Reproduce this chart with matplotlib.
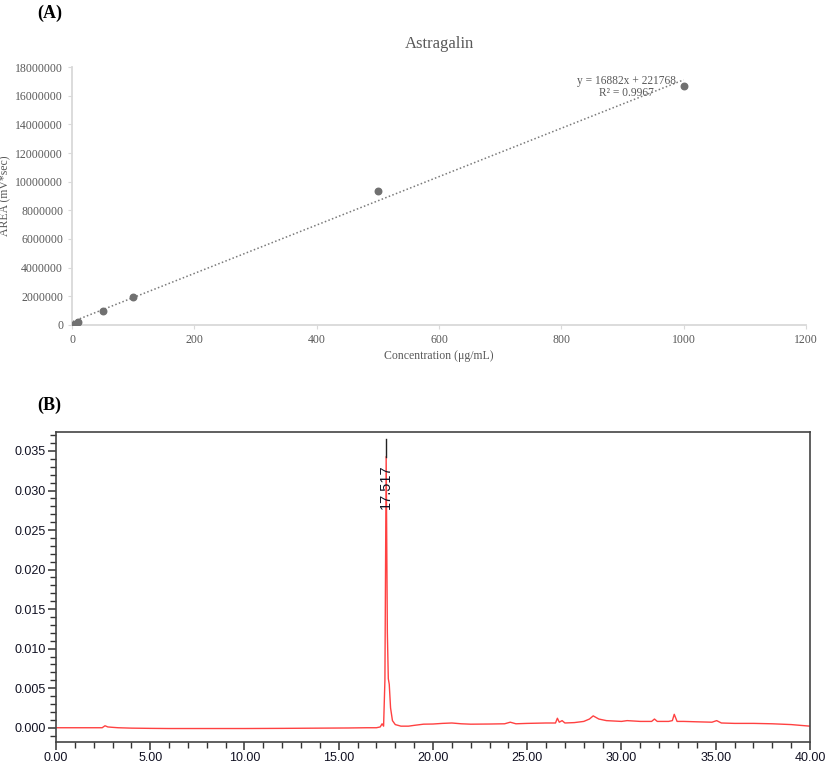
import numpy as np
import matplotlib
matplotlib.use("Agg")
from matplotlib import pyplot as plt
from matplotlib.ticker import MultipleLocator, FormatStrFormatter

# (A) calibration data
conc = [1, 5, 10, 50, 100, 500, 1000]
area = [20000, 90000, 180000, 950000, 1950000, 9350000, 16700000]
slope = 16882
intercept = 221768
fit_text = "y = 16882x + 221768\nR\u00b2 = 0.9967"

# (B) chromatogram, points
rt = [0.0, 1.0, 2.0, 2.45, 2.6, 2.75, 3.0, 3.3, 4.0, 5.0, 6.0, 8.0, 10.0, 12.0,
      14.0, 15.5, 16.5, 17.0, 17.2, 17.3, 17.38, 17.45, 17.517, 17.58, 17.63,
      17.68, 17.75, 17.85, 18.0, 18.3, 18.7, 19.0, 19.5, 20.0, 20.5, 21.0,
      21.5, 22.0, 23.0, 23.8, 24.1, 24.4, 25.0, 26.0, 26.5, 26.6, 26.7, 26.85,
      27.0, 27.5, 28.0, 28.3, 28.5, 28.8, 29.2, 30.0, 30.3, 31.0, 31.6, 31.75,
      31.9, 32.5, 32.7, 32.8, 32.95, 33.3, 34.0, 34.8, 35.05, 35.3, 36.0, 37.0,
      38.0, 39.0, 40.0]
signal = [0.0, 0.0, 0.0, 0.0, 0.00025, 0.0001, 0.00005, 0.0, -0.00005,
          -0.00008, -0.0001, -0.0001, -0.0001, -0.00008, -0.00005, -0.00003,
          0.0, 0.0, 0.0001, 0.0005, 0.0002, 0.006, 0.0343, 0.012, 0.0062,
          0.0055, 0.0025, 0.0009, 0.0004, 0.0002, 0.0002, 0.0003, 0.00045,
          0.00047, 0.00055, 0.0006, 0.0005, 0.00045, 0.00047, 0.0005, 0.0007,
          0.0005, 0.00055, 0.0006, 0.0006, 0.0012, 0.0007, 0.0009, 0.0006,
          0.00065, 0.0008, 0.0011, 0.0015, 0.0011, 0.0009, 0.0008, 0.0009,
          0.0008, 0.0008, 0.0011, 0.0008, 0.0008, 0.0009, 0.0017, 0.0008,
          0.0008, 0.00075, 0.0007, 0.0009, 0.0006, 0.00055, 0.00055, 0.0005,
          0.0004, 0.0002]
peak_rt = 17.517
peak_label = "17.517"

fig = plt.figure(figsize=(8.27, 7.65), dpi=100)

# ---------- panel A ----------
grey = '#595959'
serif = ['Liberation Serif', 'DejaVu Serif']
ax1 = fig.add_axes([0.0871, 0.5752, 0.8875, 0.3372])
ax1.scatter(conc, area, s=22, color='#707070', zorder=3)
xs = np.array([min(conc), max(conc)])
ax1.plot(xs, slope * xs + intercept, linestyle=(0, (1, 1.5)), color='#7a7a7a', lw=1.1)
ax1.set_xlim(0, 1200)
ax1.set_ylim(0, 18000000)
ax1.xaxis.set_major_locator(MultipleLocator(200))
ax1.yaxis.set_major_locator(MultipleLocator(2000000))
ax1.yaxis.set_major_formatter(FormatStrFormatter('%d'))
for side in ['top', 'right']:
    ax1.spines[side].set_visible(False)
for side in ['left', 'bottom']:
    ax1.spines[side].set_color('#d9d9d9')
    ax1.spines[side].set_linewidth(1.3)
ax1.tick_params(colors='#d9d9d9', labelcolor=grey, labelsize=8.5, length=3, width=0.8)
for lab in ax1.get_xticklabels() + ax1.get_yticklabels():
    lab.set_family(serif)
ax1.set_title("Astragalin", family=serif, fontsize=12, color=grey, pad=14)
ax1.set_xlabel("Concentration (\u03bcg/mL)", family=serif, fontsize=8.5, color=grey, labelpad=3)
ax1.set_ylabel("AREA (mV*sec)", family=serif, fontsize=8.5, color=grey)
ax1.yaxis.set_label_coords(-0.083, 0.5)
ax1.text(0.756, 0.921, fit_text, transform=ax1.transAxes, ha='center', va='center',
         multialignment='center', family=serif, fontsize=8.3, color=grey, linespacing=1.0)

# ---------- panel B ----------
sans = ['Liberation Sans', 'DejaVu Sans']
ink = '#111122'
ax2 = fig.add_axes([0.0677, 0.0301, 0.9117, 0.4052])
ax2.plot(rt, signal, color='#ff2020', lw=1.0, alpha=0.85)
peak_top = max(signal)
ax2.plot([peak_rt, peak_rt], [peak_top, 0.0365], color='#222222', lw=1.0)
ax2.text(peak_rt, 0.0305, peak_label, rotation=90, ha='center', va='center',
         family=sans, fontsize=10.5, color=ink)
ax2.set_xlim(0, 40)
ax2.set_ylim(-0.0018, 0.0374)
ax2.xaxis.set_major_locator(MultipleLocator(5))
ax2.xaxis.set_minor_locator(MultipleLocator(1))
ax2.yaxis.set_major_locator(MultipleLocator(0.005))
ax2.yaxis.set_minor_locator(MultipleLocator(0.001))
ax2.xaxis.set_major_formatter(FormatStrFormatter('%.2f'))
ax2.yaxis.set_major_formatter(FormatStrFormatter('%.3f'))
for side in ax2.spines:
    ax2.spines[side].set_color('#444444')
    ax2.spines[side].set_linewidth(1.2)
ax2.tick_params(which='major', length=6, width=1.1, colors='#333333', labelcolor=ink, labelsize=9)
ax2.tick_params(axis='x', which='major', pad=1.5)
ax2.tick_params(axis='y', which='major', pad=1.5)
ax2.tick_params(which='minor', length=4, width=1.0, colors='#333333')
for lab in ax2.get_xticklabels() + ax2.get_yticklabels():
    lab.set_family(sans)

fig.text(0.045, 0.983, "(A)", family=serif, fontweight='bold', fontsize=13, va='center')
fig.text(0.045, 0.470, "(B)", family=serif, fontweight='bold', fontsize=13, va='center')

plt.savefig('out.png', dpi=100)
